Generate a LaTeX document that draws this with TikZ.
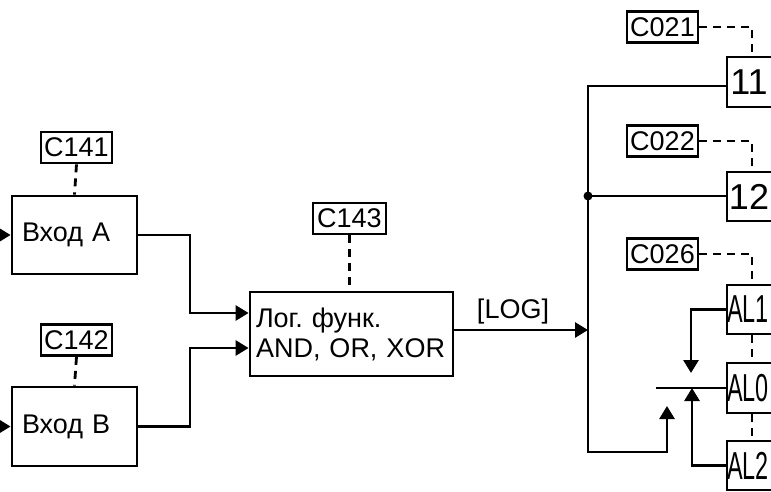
\documentclass[tikz,border=0pt]{standalone}
\usepackage{fontspec}
\setmainfont{Liberation Sans}
\newfontfamily\narrowfont[FakeStretch=0.6]{Liberation Sans}
\usetikzlibrary{arrows.meta}
\frenchspacing
\tikzset{
  x=1pt,y=-1pt,
  every path/.style={line width=2.8pt},
  box/.style={draw,line width=2.8pt,inner sep=0pt},
  par/.style={box,minimum width=71pt,minimum height=31pt,font=\fontsize{27}{30}\selectfont},
  dsh/.style={line width=2.8pt,dash pattern=on 8pt off 6pt},
  arr/.style={-{Triangle[length=13pt,width=15pt]}},
  txt/.style={font=\fontsize{27}{30}\selectfont},
  big/.style={box,minimum width=50pt,minimum height=50pt,font=\fontsize{36}{36}\selectfont},
  albox/.style={box,minimum width=50pt,minimum height=49pt,font=\narrowfont\fontsize{39}{39}\selectfont},
}
\begin{document}
\begin{tikzpicture}
\useasboundingbox (0,0) rectangle (771,492);
% parameter boxes
\node[par] (c141) at (76.5,147.5) {C141};
\node[par] (c142) at (76.5,340) {C142};
\node[par,minimum width=73pt] (c143) at (349.5,218.5) {C143};
\node[par] (c021) at (662.5,27) {C021};
\node[par] (c022) at (662.5,141) {C022};
\node[par] (c026) at (662.5,254) {C026};
% main boxes
\node[box,minimum width=125pt,minimum height=78pt,text width=105pt,align=left,txt] (ina) at (74.5,235) {Вход A};
\node[box,minimum width=125pt,minimum height=79pt,text width=105pt,align=left,txt] (inb) at (74.5,426.5) {Вход B};
\node[box,minimum width=203pt,minimum height=84pt,text width=191pt,align=left,txt] (logic) at (351.5,334) {Лог. функ.\\AND, OR, XOR};
\node[big] (b11) at (752,82) {\hspace*{-6pt}11};
\node[big,minimum height=49pt] (b12) at (752,196.5) {\hspace*{-6pt}12};
\node[albox] (al1) at (752,309.5) {\hspace*{-8pt}AL1};
\node[albox,minimum height=50pt] (al0) at (752,388) {\hspace*{-8pt}AL0};
\node[albox] (al2) at (752,465.5) {\hspace*{-8pt}AL2};
\node[txt] (log) at (513,312) {[LOG]};
% coordinates
\coordinate (ina-in) at (-4,235);
\coordinate (inb-in) at (-4,426.5);
\coordinate (busTop) at (588,86);
\coordinate (busBot) at (588,452);
\coordinate (busJ) at (588,330);
\coordinate (busD) at (588,196);
\coordinate (busEnd) at (667,406);
\coordinate (al1End) at (691,373);
\coordinate (al0End) at (656,388);
\coordinate (al2End) at (692,388);
\coordinate (ja) at (190,313);
\coordinate (jb) at (190,348);
% dashed parameter links
\draw[dsh] (c141.south) -- (ina.north);
\draw[dsh] (c142.south) -- (inb.north);
\draw[dsh] (c143.south) -- (c143.south |- logic.north);
\draw[dsh] (c021.east) -| (b11.north);
\draw[dsh] (c022.east) -| (b12.north);
\draw[dsh] (c026.east) -| (al1.north);
\draw[dsh] (al1.south) -- (al0.north);
\draw[dsh] (al0.south) -- (al2.north);
% signal flow
\draw[arr] (ina-in) -- (ina.west);
\draw[arr] (inb-in) -- (inb.west);
\draw[arr] (ina.east) -| (ja) -- (ja -| logic.west);
\draw[arr] (inb.east) -| (jb) -- (jb -| logic.west);
\draw[arr] (logic.east |- busJ) -- (busJ);
\draw (b11.west |- busTop) -- (busTop) -- (busBot) -- (667,452) -- ++(0,-8);
\draw[arr] (667,452) -- (busEnd);
\draw (b12.west |- busD) -- (busD);
\fill (busD) circle (4.5pt);
\draw[arr] (al1.west) -- (al1.west -| al1End) -- (al1End);
\draw (al0.west) -- (al0End);
\draw[arr] (al2.west) -- (al2.west -| al2End) -- (al2End);
\end{tikzpicture}
\end{document}
